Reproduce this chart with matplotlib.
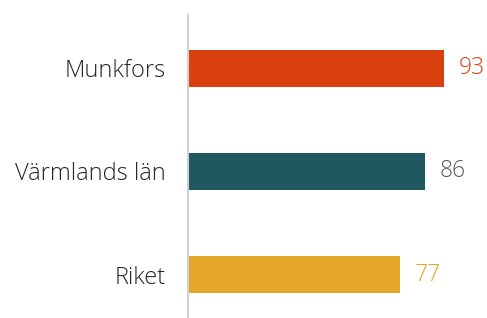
import matplotlib.pyplot as plt

categories = ['Munkfors', 'Värmlands län', 'Riket']
values = [93, 86, 77]
bar_colors = ['#D9400E', '#1F5860', '#E3A628']
label_colors = ['#D9400E', '#595959', '#E3A628']

plt.rcParams['font.family'] = ['Open Sans', 'DejaVu Sans']

fig = plt.figure(figsize=(4.87, 3.18), dpi=100)
ax = fig.add_axes([188 / 487, 0, 297 / 487, 303 / 318])

ypos = range(len(categories))
ax.barh(ypos, values, height=0.36, color=bar_colors)
for y, v, c in zip(ypos, values, label_colors):
    ax.text(v + 5.6, y, str(v), va='center', ha='left', fontsize=16.5,
            color=c, fontweight='light')

ax.set_xlim(0, 108)
ax.set_ylim(2.422, -0.519)
ax.set_yticks(list(ypos))
ax.set_yticklabels(categories, fontsize=17, color='#262626', fontweight='light')
ax.tick_params(axis='y', length=0, pad=16)
ax.set_xticks([])
for s in ['top', 'right', 'bottom']:
    ax.spines[s].set_visible(False)
ax.spines['left'].set_color('#D0D0D0')
ax.spines['left'].set_linewidth(1.5)

fig.savefig('out.png', dpi=100)
